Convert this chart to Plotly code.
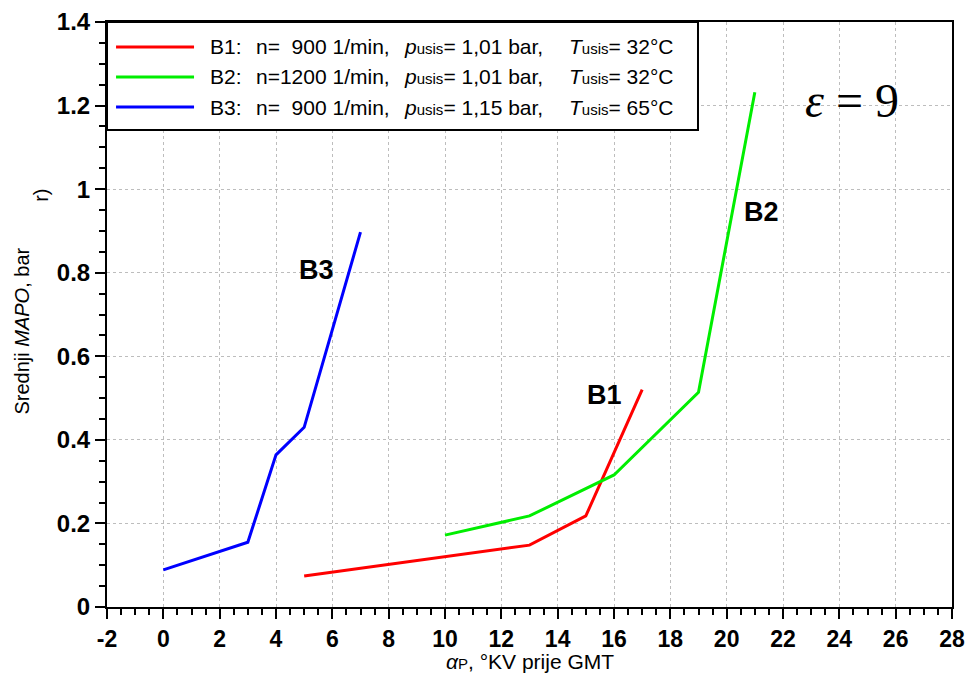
import plotly.graph_objects as go

# B1: n=900, p=1.01 bar, T=32°C
b1_x = [5, 13, 15, 17]
b1_y = [0.074, 0.148, 0.218, 0.52]
# B2: n=1200, p=1.01 bar, T=32°C
b2_x = [10, 13, 16, 19, 21]
b2_y = [0.172, 0.218, 0.316, 0.514, 1.232]
# B3: n=900, p=1.15 bar, T=65°C
b3_x = [0, 3, 4, 5, 7]
b3_y = [0.089, 0.155, 0.364, 0.43, 0.897]

colors = ["#ff0000", "#00ee00", "#0000ff"]
series = [(b1_x, b1_y), (b2_x, b2_y), (b3_x, b3_y)]

# legend columns
leg_id = ["B1:", "B2:", "B3:"]
leg_n = ["n=  900 1/min,", "n=1200 1/min,", "n=  900 1/min,"]
leg_p = ["1,01 bar,", "1,01 bar,", "1,15 bar,"]
leg_t = ["32°C", "32°C", "65°C"]

# curve labels
label_text = ["B1", "B2", "B3"]
label_x = [15.68, 21.25, 5.45]
label_y = [0.507, 0.945, 0.806]

x_ticks = list(range(-2, 29, 2))
y_ticks = [0, 0.2, 0.4, 0.6, 0.8, 1.0, 1.2, 1.4]

ARIAL = "Arial, Liberation Sans"

fig = go.Figure()
for (xs, ys), c in zip(series, colors):
    fig.add_trace(go.Scatter(x=xs, y=ys, mode="lines", showlegend=False,
                             line=dict(color=c, width=3)))

for t, x, y in zip(label_text, label_x, label_y):
    fig.add_annotation(x=x, y=y, text="<b>%s</b>" % t, showarrow=False,
                       font=dict(family=ARIAL, size=27, color="black"))

fig.add_annotation(x=24.45, y=1.213, text="<i>ε</i> = 9", showarrow=False,
                   font=dict(family="Liberation Serif, DejaVu Serif", size=48, color="black"))

# axis titles as annotations (placed in paper coords)
fig.add_annotation(xref="paper", yref="paper", x=-0.101, y=0.472, textangle=-90,
                   xanchor="center", yanchor="middle",
                   text="Srednji <i>MAPO</i>, bar", showarrow=False,
                   font=dict(family=ARIAL, size=20, color="black"))
fig.add_annotation(xref="paper", yref="paper", x=-0.078, y=0.703, textangle=-90,
                   xanchor="center", yanchor="middle",
                   text="r)", showarrow=False,
                   font=dict(family=ARIAL, size=20, color="black"))
fig.add_annotation(xref="paper", yref="paper", x=0.5, y=-0.094,
                   xanchor="center", yanchor="middle",
                   text="<i>α</i><span style='font-size:15px'>P</span>, °KV prije GMT",
                   showarrow=False,
                   font=dict(family=ARIAL, size=21, color="black"))

# hand-built legend box
fig.add_shape(type="rect", xref="paper", yref="paper", x0=0, x1=0.6994, y0=0.8154, y1=1,
              fillcolor="white", line=dict(color="black", width=2), layer="above")
row_y = [0.9573, 0.906, 0.8547]
sub = "<span style='font-size:15px'>usis</span>"
for i in range(3):
    ry = row_y[i]
    fig.add_shape(type="line", xref="paper", yref="paper", x0=0.0107, x1=0.103, y0=ry, y1=ry,
                  line=dict(color=colors[i], width=3), layer="above")
    cols = [(0.1195, leg_id[i]), (0.174, leg_n[i]),
            (0.3491, "<i>p</i>%s= %s" % (sub, leg_p[i])),
            (0.5444, "<i>T</i>%s= %s" % (sub, leg_t[i]))]
    for cx, txt in cols:
        fig.add_annotation(xref="paper", yref="paper", x=cx, y=ry, xanchor="left", yanchor="middle",
                           text=txt, showarrow=False,
                           font=dict(family=ARIAL, size=21, color="black"))

axis_common = dict(
    showline=True, linecolor="black", linewidth=2, mirror=True,
    ticks="outside", ticklen=10, tickwidth=2, tickcolor="black",
    showgrid=True, gridcolor="#bdbdbd", griddash="dot", gridwidth=1,
    zeroline=False, automargin=False,
)

fig.update_xaxes(range=[-2, 28], tickvals=x_ticks,
                 ticktext=["<b>%d</b>" % v for v in x_ticks],
                 tickfont=dict(family=ARIAL, size=23, color="black"),
                 minor=dict(dtick=0.5, ticks="outside", ticklen=6, tickwidth=2, tickcolor="black", showgrid=False),
                 **axis_common)
fig.update_yaxes(range=[0, 1.4], tickvals=y_ticks,
                 ticktext=["<b>%s</b>" % ("%g" % v) for v in y_ticks],
                 tickfont=dict(family=ARIAL, size=24, color="black"),
                 minor=dict(dtick=0.05, ticks="outside", ticklen=6, tickwidth=2, tickcolor="black", showgrid=False),
                 **axis_common)

fig.update_layout(
    width=968, height=676,
    margin=dict(l=107, r=16, t=22, b=69),
    plot_bgcolor="white", paper_bgcolor="white",
    showlegend=False,
)

# drop the page's default body margin so the figure fills the window
fig.write_html("out.html", config={"displayModeBar": False},
               post_script="document.body.style.margin='0px';")
